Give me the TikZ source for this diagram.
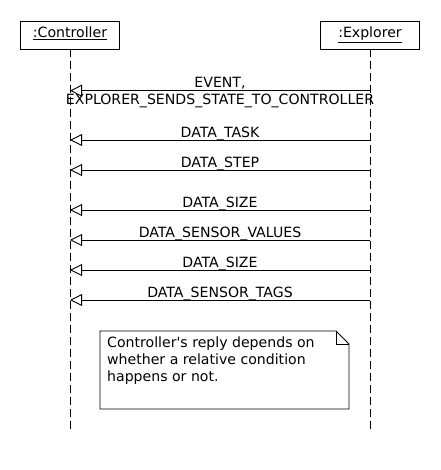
\documentclass[tikz,border=0pt]{standalone}
\usepackage{fontspec}
\setmainfont{DejaVu Sans}
\usetikzlibrary{arrows.meta}
\begin{document}
\begin{tikzpicture}[x=1pt,y=-1pt,
  every node/.style={font=\fontsize{14.1}{16.8}\selectfont},
  hdr/.style={draw, line width=0.9pt, minimum width=99pt, minimum height=28pt, inner sep=0pt, text height=10pt, text depth=4.6pt},
  life/.style={line width=0.9pt, dash pattern=on 8pt off 4pt},
  msg/.style={line width=0.9pt, -{Triangle[open, length=12pt, width=12pt, line width=0.9pt]}},
  lbl/.style={anchor=base, inner sep=0pt},
]
\useasboundingbox (0,0) rectangle (440,470);
\fill[white] (0,0) rectangle (440,470);
% headers
\node[hdr] (ctrl) at (70,35) {\underline{:Controller}};
\node[hdr] (expl) at (370,35) {\underline{:Explorer}};
% lifelines
\coordinate (ctrlEnd) at (70,430);
\coordinate (explEnd) at (370,430);
\draw[life] (ctrl.south) -- (ctrlEnd);
\draw[life] (expl.south) -- (explEnd);
% messages
\foreach \n/\y in {1/90.7,2/140,3/170,4/210,5/240,6/270,7/300}{
  \coordinate (c\n) at (70,\y);
  \coordinate (e\n) at (370,\y);
}
\draw[msg] (e1) -- (c1);
\node[lbl] (l1a) at (220,87.3) {EVENT,};
\node[lbl] (l1b) at (220,104.3) {EXPLORER\_SENDS\_STATE\_TO\_CONTROLLER};
\draw[msg] (e2) -- (c2);
\node[lbl] (l2) at (220,137.3) {DATA\_TASK};
\draw[msg] (e3) -- (c3);
\node[lbl] (l3) at (220,167.3) {DATA\_STEP};
\draw[msg] (e4) -- (c4);
\node[lbl] (l4) at (220,207.3) {DATA\_SIZE};
\draw[msg] (e5) -- (c5);
\node[lbl] (l5) at (220,237.3) {DATA\_SENSOR\_VALUES};
\draw[msg] (e6) -- (c6);
\node[lbl] (l6) at (220,267.3) {DATA\_SIZE};
\draw[msg] (e7) -- (c7);
\node[lbl] (l7) at (220,297.3) {DATA\_SENSOR\_TAGS};
% note
\draw[line width=0.9pt, fill=white] (100,331) -- (336,331) -- (349,344) -- (349,409) -- (100,409) -- cycle;
\draw[line width=0.9pt] (336,331) -- (336,344) -- (349,344);
\node[anchor=base west, inner sep=0pt] (n1) at (107,347.7) {Controller\textquotesingle s reply depends on};
\node[anchor=base west, inner sep=0pt] (n2) at (107,364.5) {whether a relative condition};
\node[anchor=base west, inner sep=0pt] (n3) at (107,381.3) {happens or not.};
\end{tikzpicture}
\end{document}
